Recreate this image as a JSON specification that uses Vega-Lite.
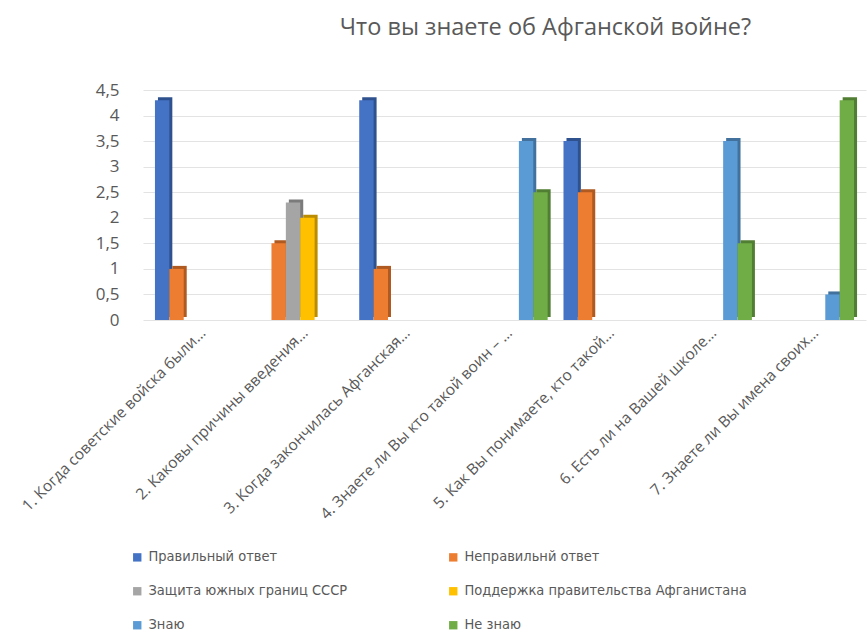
{
  "$schema": "https://vega.github.io/schema/vega-lite/v6.json",
  "autosize": {"type": "none"},
  "width": 723,
  "height": 230,
  "padding": {"left": 143, "top": 90, "right": 2, "bottom": 314},
  "background": "white",
  "title": {
    "text": "Что вы знаете об Афганской войне?",
    "anchor": "middle",
    "dx": 41,
    "offset": 42,
    "font": "Open Sans",
    "fontSize": 23.5,
    "fontWeight": "normal",
    "color": "#595959"
  },
  "config": {
    "view": {"stroke": null},
    "axis": {"labelFont": "Open Sans", "labelColor": "#595959"}
  },
  "data": {
    "values": [
      {"q": "1. Когда советские войска были…", "s": "Правильный ответ", "v": 4.3},
      {"q": "1. Когда советские войска были…", "s": "Неправильнй ответ", "v": 1},
      {"q": "2. Каковы причины введения…", "s": "Неправильнй ответ", "v": 1.5},
      {"q": "2. Каковы причины введения…", "s": "Защита южных границ СССР", "v": 2.3},
      {"q": "2. Каковы причины введения…", "s": "Поддержка правительства Афганистана", "v": 2},
      {"q": "3. Когда закончилась Афганская…", "s": "Правильный ответ", "v": 4.3},
      {"q": "3. Когда закончилась Афганская…", "s": "Неправильнй ответ", "v": 1},
      {"q": "4. Знаете ли Вы кто такой воин – …", "s": "Знаю", "v": 3.5},
      {"q": "4. Знаете ли Вы кто такой воин – …", "s": "Не знаю", "v": 2.5},
      {"q": "5. Как Вы понимаете, кто такой…", "s": "Правильный ответ", "v": 3.5},
      {"q": "5. Как Вы понимаете, кто такой…", "s": "Неправильнй ответ", "v": 2.5},
      {"q": "6. Есть ли на Вашей школе…", "s": "Знаю", "v": 3.5},
      {"q": "6. Есть ли на Вашей школе…", "s": "Не знаю", "v": 1.5},
      {"q": "7. Знаете ли Вы имена своих…", "s": "Знаю", "v": 0.5},
      {"q": "7. Знаете ли Вы имена своих…", "s": "Не знаю", "v": 4.3}
    ]
  },
  "encoding": {
    "x": {
      "field": "q",
      "type": "nominal",
      "sort": null,
      "scale": {"paddingInner": 0.155, "paddingOuter": 0.117},
      "axis": {
        "title": null,
        "labelAngle": -45,
        "labelAlign": "right",
        "labelBaseline": "top",
        "labelFontSize": 15.5,
        "labelPadding": 5,
        "labelLimit": 400,
        "domain": false,
        "ticks": false
      }
    },
    "y": {
      "field": "v",
      "type": "quantitative",
      "scale": {"domain": [0, 4.5]},
      "axis": {
        "title": null,
        "values": [0, 0.5, 1, 1.5, 2, 2.5, 3, 3.5, 4, 4.5],
        "format": "~g",
        "labelExpr": "replace(datum.label, '.', ',')",
        "labelFontSize": 17,
        "labelPadding": 24,
        "domain": false,
        "ticks": false,
        "grid": true,
        "gridColor": "#e3e3e3"
      }
    }
  },
  "layer": [
    {
      "mark": {"type": "bar", "yOffset": -3},
      "encoding": {
        "xOffset": {
          "field": "s",
          "type": "nominal",
          "scale": {
            "domain": ["Правильный ответ", "Неправильнй ответ", "Защита южных границ СССР", "Поддержка правительства Афганистана", "Знаю", "Не знаю"],
            "range": [3, 89.3],
            "paddingInner": 0,
            "paddingOuter": 0
          }
        },
        "fill": {
          "field": "s",
          "type": "nominal",
          "scale": {
            "domain": ["Правильный ответ", "Неправильнй ответ", "Защита южных границ СССР", "Поддержка правительства Афганистана", "Знаю", "Не знаю"],
            "range": ["#2F528F", "#AE5A21", "#7B7B7B", "#BC8C00", "#41719C", "#507E32"]
          },
          "legend": null
        }
      }
    },
    {
      "mark": {"type": "bar"},
      "encoding": {
        "xOffset": {
          "field": "s",
          "type": "nominal",
          "scale": {
            "domain": ["Правильный ответ", "Неправильнй ответ", "Защита южных границ СССР", "Поддержка правительства Афганистана", "Знаю", "Не знаю"],
            "range": [0, 86.3],
            "paddingInner": 0,
            "paddingOuter": 0
          }
        },
        "fill": {
          "field": "s",
          "type": "nominal",
          "scale": {
            "domain": ["Правильный ответ", "Неправильнй ответ", "Защита южных границ СССР", "Поддержка правительства Афганистана", "Знаю", "Не знаю"],
            "range": ["#4472C4", "#ED7D31", "#A5A5A5", "#FFC000", "#5B9BD5", "#70AD47"]
          },
          "legend": {
            "title": null,
            "orient": "none",
            "direction": "horizontal",
            "legendX": -13,
            "legendY": 460,
            "columns": 2,
            "columnPadding": 98,
            "rowPadding": 19,
            "symbolType": "square",
            "symbolSize": 70,
            "symbolStrokeWidth": 0,
            "labelFont": "DejaVu Sans Condensed, Liberation Sans",
            "labelFontSize": 14.5,
            "labelColor": "#595959",
            "labelLimit": 400,
            "labelOffset": 4
          }
        }
      }
    }
  ],
  "resolve": {
    "scale": {"fill": "independent", "xOffset": "independent"},
    "legend": {"fill": "independent"}
  }
}
